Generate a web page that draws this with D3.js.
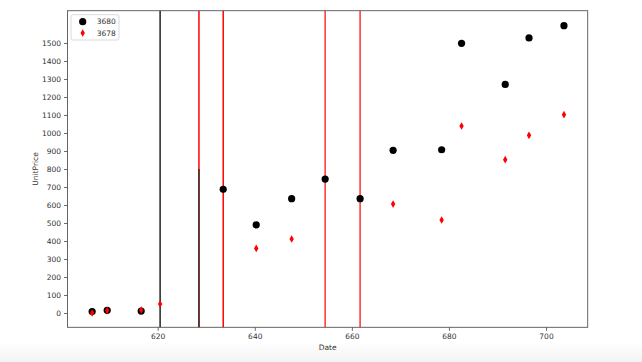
<!DOCTYPE html>
<html>
<head>
<meta charset="utf-8">
<script src="https://cdn.jsdelivr.net/npm/d3@7/dist/d3.min.js"></script>
<style>
  body { margin: 0; background: #fff; }
  svg { display: block; font-family: "DejaVu Sans", sans-serif; }
</style>
</head>
<body>
<svg id="chart"></svg>
<script>
const width = 642;
const height = 362;
const margin = {left: 67.5, right: 54.3, top: 10.7, bottom: 34.7};

// series 3680 (black circles)
const dates3680 = [606.5, 609.6, 616.6, 633.5, 640.3, 647.6, 654.5, 661.7, 668.5, 678.5, 682.6, 691.6, 696.5, 703.7];
const price3680 = [8, 15, 11, 687, 490, 635, 744, 635, 904, 907, 1498, 1270, 1528, 1596];

// series 3678 (red diamonds)
const dates3678 = [606.5, 609.6, 616.6, 620.5, 640.3, 647.6, 668.5, 678.5, 682.6, 691.6, 696.5, 703.7];
const price3678 = [0, 14, 17, 50, 359, 411, 605, 517, 1039, 852, 987, 1102];

// vertical marker lines: x, colour, fraction of axis height covered
const lineDates = [620.5, 628.5, 628.5, 633.5, 654.5, 661.7];
const lineColors = ["#222", "red", "#333", "red", "#ff3333", "#ff3333"];
const lineFrac = [1, 1, 0.5, 1, 1, 1];

const xTicks = [620, 640, 660, 680, 700];
const yTicks = d3.range(0, 1501, 100);

const svg = d3.select("#chart")
    .attr("width", width)
    .attr("height", height);

// faint shading at the very bottom like the screenshot
const grad = svg.append("defs").append("linearGradient")
    .attr("id", "fade").attr("x1", 0).attr("y1", 0).attr("x2", 0).attr("y2", 1);
grad.append("stop").attr("offset", "0%").attr("stop-color", "#fff");
grad.append("stop").attr("offset", "100%").attr("stop-color", "#f3f3f3");
svg.append("rect").attr("width", width).attr("height", height).attr("fill", "#fff");
svg.append("rect").attr("y", 342).attr("width", width).attr("height", 20).attr("fill", "url(#fade)");

const x = d3.scaleLinear().domain([601.42, 708.59]).range([margin.left, width - margin.right]);
const y = d3.scaleLinear().domain([-79.4, 1679.4]).range([height - margin.bottom, margin.top]);

const plotTop = margin.top, plotBottom = height - margin.bottom;

//vertical lines
svg.append("g")
    .selectAll("line")
    .data(lineDates.map((d, i) => ({x: d, c: lineColors[i], f: lineFrac[i]})))
    .enter().append("line")
    .attr("x1", d => x(d.x)).attr("x2", d => x(d.x))
    .attr("y1", plotBottom)
    .attr("y2", d => plotBottom - d.f * (plotBottom - plotTop))
    .attr("stroke", d => d.c)
    .attr("stroke-width", 1.5);

// black circles
svg.append("g")
    .selectAll("circle")
    .data(dates3680.map((d, i) => ({x: d, y: price3680[i]})))
    .enter().append("circle")
    .attr("cx", d => x(d.x))
    .attr("cy", d => y(d.y))
    .attr("r", 3.6)
    .attr("fill", "#000");

// red thin diamonds
const diamond = "M0,-3.8L2.2,0L0,3.8L-2.2,0Z";
svg.append("g")
    .selectAll("path")
    .data(dates3678.map((d, i) => ({x: d, y: price3678[i]})))
    .enter().append("path")
    .attr("d", diamond)
    .attr("transform", d => `translate(${x(d.x)},${y(d.y)})`)
    .attr("fill", "red");

// axes
const xAxis = d3.axisBottom(x).tickValues(xTicks).tickSize(3.5).tickPadding(3).tickFormat(d3.format("d"));
const yAxis = d3.axisLeft(y).tickValues(yTicks).tickSize(3.5).tickPadding(3).tickFormat(d3.format("d"));

const gx = svg.append("g")
    .attr("transform", `translate(0,${plotBottom})`)
    .call(xAxis);
const gy = svg.append("g")
    .attr("transform", `translate(${margin.left},0)`)
    .call(yAxis);

[gx, gy].forEach(g => {
    g.select(".domain").remove();
    g.attr("font-family", null).attr("font-size", null);
    g.selectAll(".tick line").attr("stroke", "#444").attr("stroke-width", 0.8);
    g.selectAll(".tick text").attr("fill", "#333").style("font-size", "7.5px");
});

// frame
svg.append("rect")
    .attr("x", margin.left).attr("y", plotTop)
    .attr("width", width - margin.right - margin.left)
    .attr("height", plotBottom - plotTop)
    .attr("fill", "none")
    .attr("stroke", "#555")
    .attr("stroke-width", 0.9);

svg.append("text")
    .attr("x", (margin.left + width - margin.right) / 2)
    .attr("y", 350)
    .attr("text-anchor", "middle")
    .attr("fill", "#333")
    .style("font-size", "7.5px")
    .text("Date");

svg.append("text")
    .attr("transform", `translate(38,${(plotTop + plotBottom) / 2}) rotate(-90)`)
    .attr("text-anchor", "middle")
    .attr("fill", "#333")
    .style("font-size", "7.5px")
    .text("UnitPrice");

// legend
const legend = svg.append("g").attr("transform", "translate(71,14.7)");
legend.append("rect")
    .attr("width", 48).attr("height", 25.3)
    .attr("rx", 2)
    .attr("fill", "#fff")
    .attr("stroke", "#d0d0d0")
    .attr("stroke-width", 0.8);
legend.append("circle").attr("cx", 11.7).attr("cy", 7).attr("r", 3.6).attr("fill", "#000");
legend.append("path").attr("d", diamond).attr("transform", "translate(11.7,18.3)").attr("fill", "red");
legend.append("text").attr("x", 25.7).attr("y", 9.6).attr("fill", "#333").style("font-size", "7.5px").text("3680");
legend.append("text").attr("x", 25.7).attr("y", 20.9).attr("fill", "#333").style("font-size", "7.5px").text("3678");
</script>
</body>
</html>
